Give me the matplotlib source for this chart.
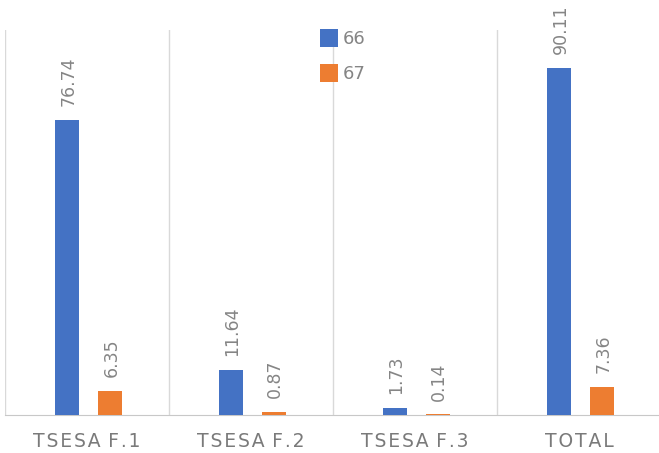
import matplotlib
matplotlib.use("Agg")
import matplotlib.pyplot as plt
import numpy as np

categories = ["TSESA F.1", "TSESA F.2", "TSESA F.3", "TOTAL"]
series_names = ["66", "67"]
values_66 = [76.74, 11.64, 1.73, 90.11]
values_67 = [6.35, 0.87, 0.14, 7.36]
labels_66 = ["76.74", "11.64", "1.73", "90.11"]
labels_67 = ["6.35", "0.87", "0.14", "7.36"]

blue = "#4472C4"
orange = "#ED7D31"
gray_text = "#858585"
grid_col = "#D9D9D9"


def spaced(s, sep):
    return sep.join(ch if ch != " " else "\u2009" for ch in s)


fig = plt.figure(figsize=(6.59, 4.53), dpi=100)
ax = fig.add_axes([5/659, 38/453, 656/659, 385/453])

x = np.arange(len(categories))
w = 0.146
b1 = ax.bar(x - 0.122, values_66, width=w, color=blue, label=series_names[0], zorder=3)
b2 = ax.bar(x + 0.14, values_67, width=w, color=orange, label=series_names[1], zorder=3)

for rects, labs in ((b1, labels_66), (b2, labels_67)):
    for r, lab in zip(rects, labs):
        ax.annotate(lab, (r.get_x() + r.get_width()/2, r.get_height()),
                    xytext=(1, 10), textcoords="offset points",
                    ha="center", va="bottom", rotation=90,
                    fontsize=12.5, color=gray_text)

ax.set_xlim(-0.5, len(categories) - 0.5)
ax.set_ylim(0, 100)
for b in np.arange(-0.5, len(categories), 1.0):
    ax.axvline(b, color=grid_col, lw=1, zorder=1)

for s in ["top", "right", "left"]:
    ax.spines[s].set_visible(False)
ax.spines["bottom"].set_color("#C8C8C8")
ax.set_yticks([])
ax.set_xticks(x)
ax.set_xticklabels([spaced(c, "\u200a") for c in categories])
ax.tick_params(axis="x", length=0, pad=12, labelsize=13.5, labelcolor="#7A7A7A")

leg = ax.legend(loc="upper center", bbox_to_anchor=(0.515, 1.045), frameon=False,
                fontsize=13, labelcolor=gray_text, handlelength=1.0, handleheight=1.2,
                labelspacing=0.85, handletextpad=0.3)

fig.savefig("out.png", dpi=100)
